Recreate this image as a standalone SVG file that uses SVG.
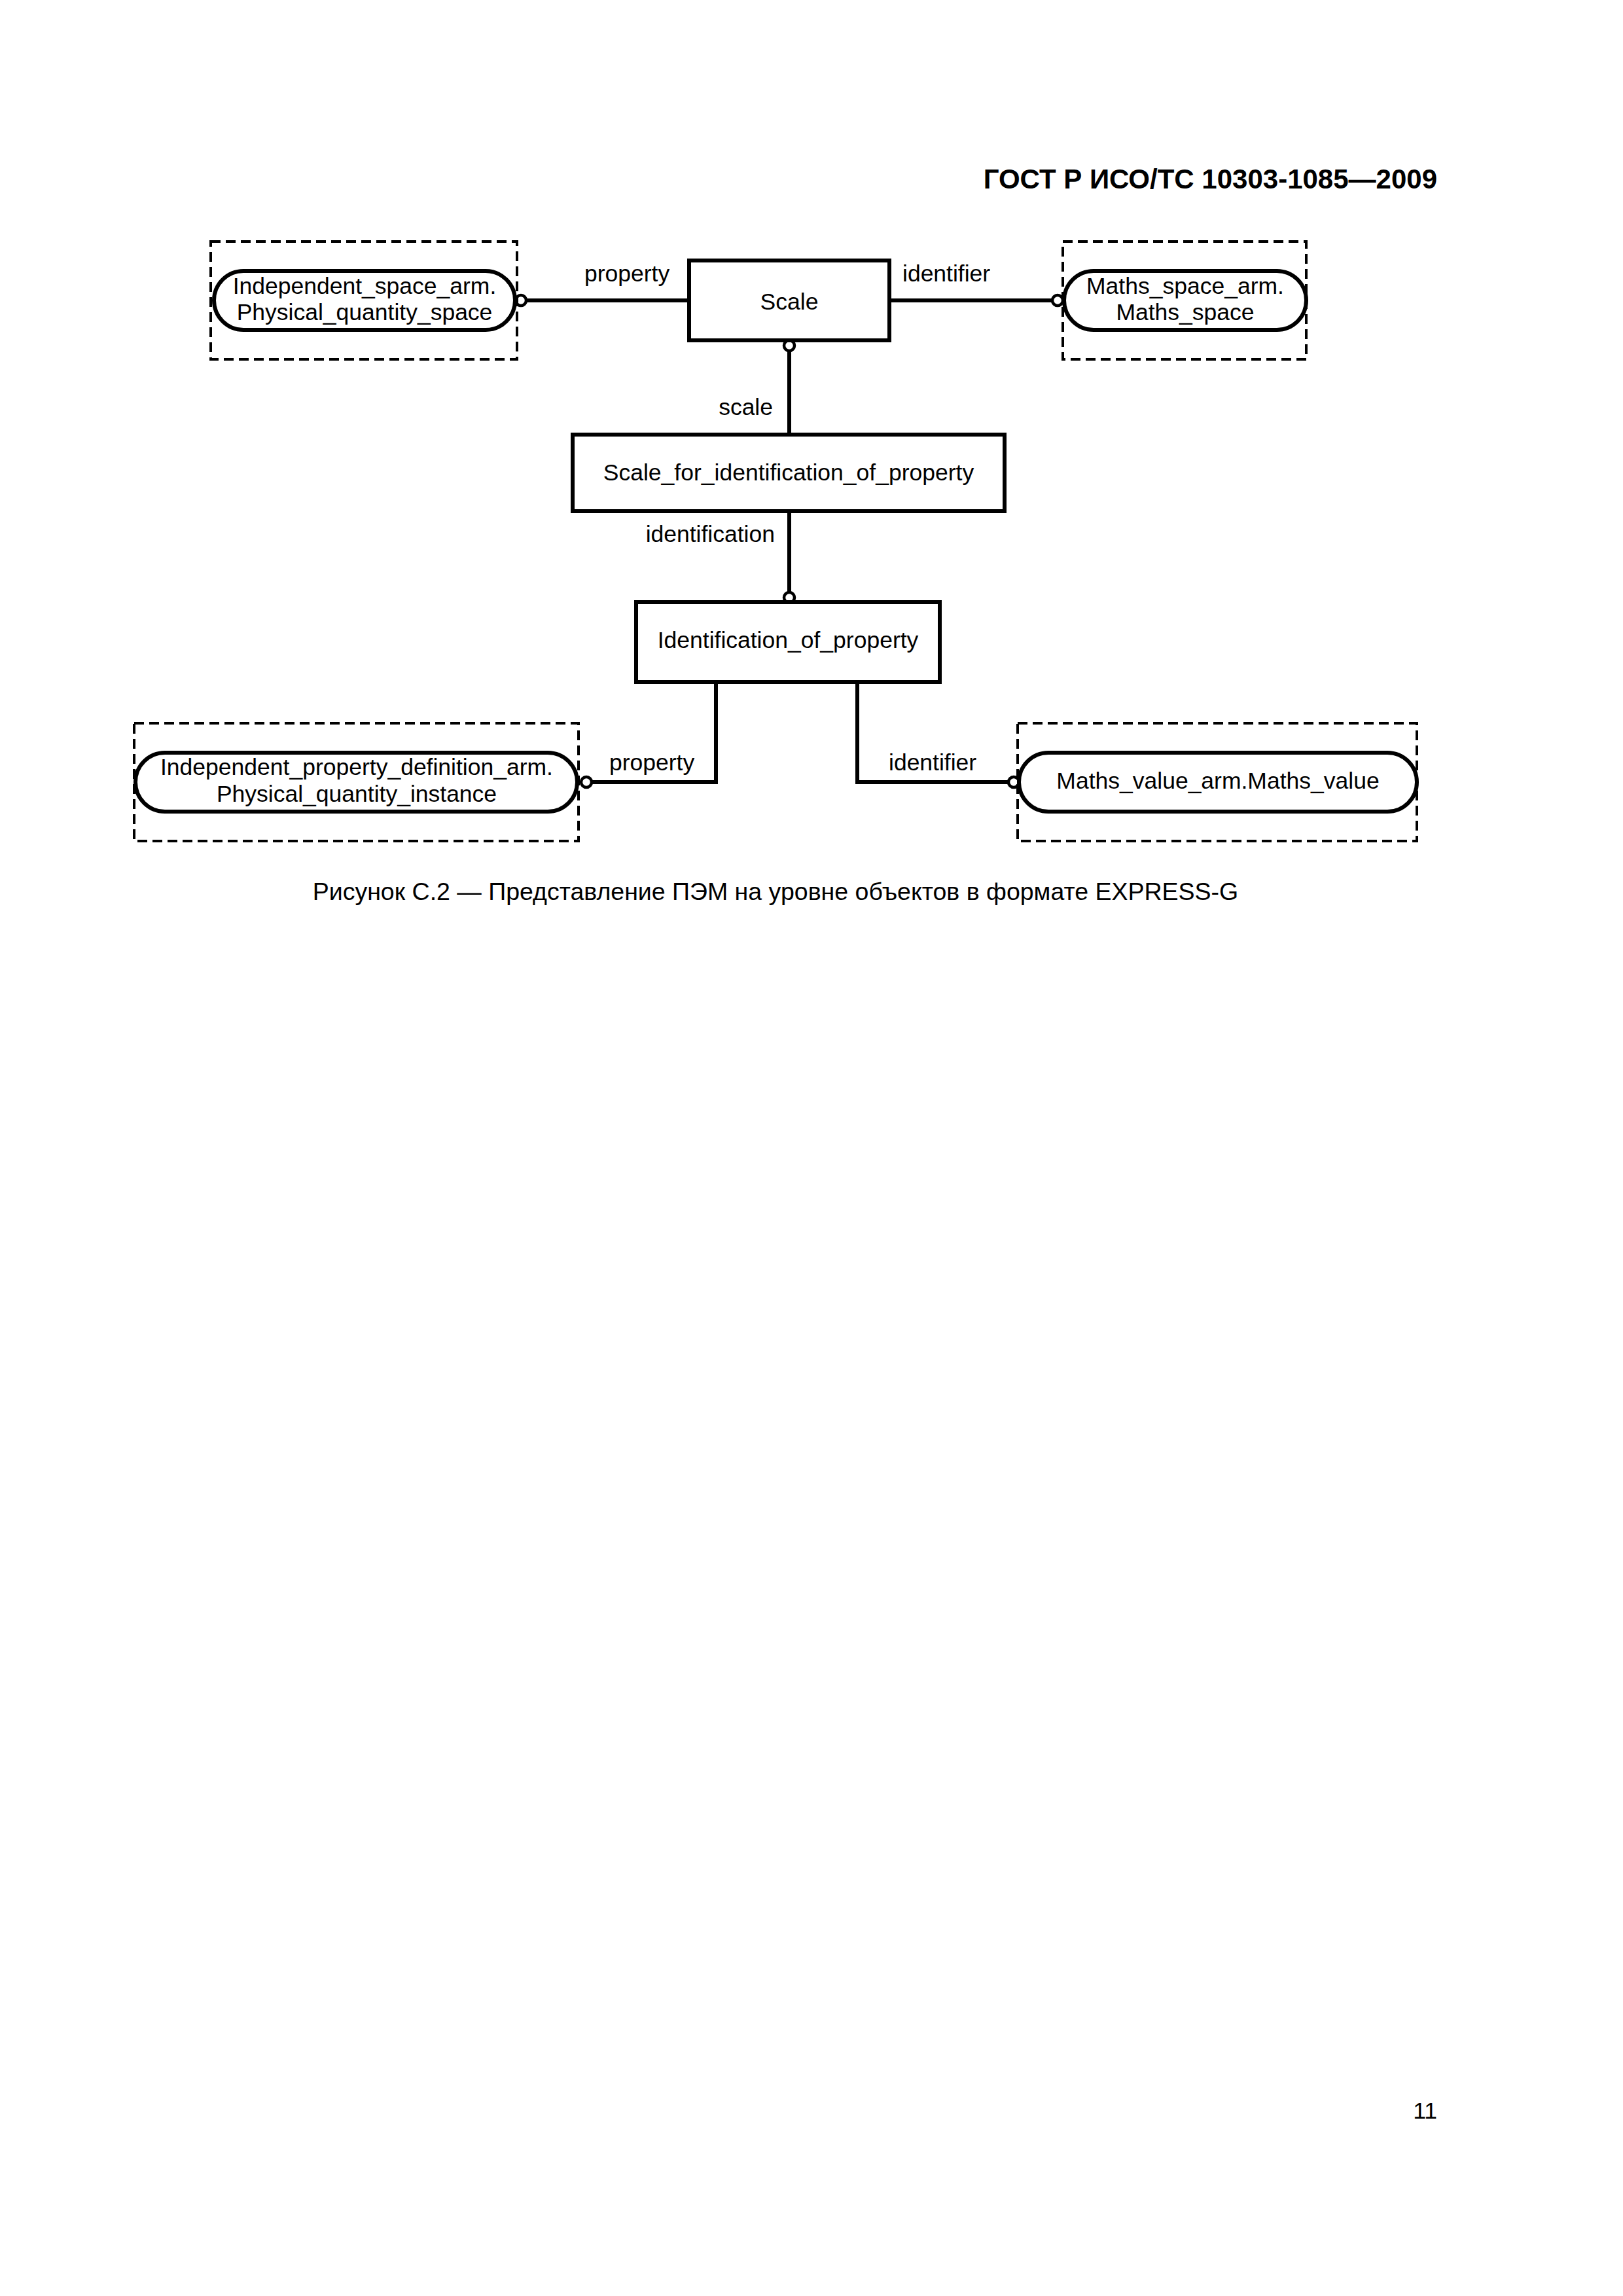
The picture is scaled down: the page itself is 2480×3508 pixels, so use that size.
<svg xmlns="http://www.w3.org/2000/svg" width="2480" height="3508" viewBox="0 0 2480 3508">
<style>
.bg{fill:#fff}
.ent{fill:#fff;stroke:#000;stroke-width:6}
.ref{fill:#fff;stroke:#000;stroke-width:6}
.dash{fill:none;stroke:#000;stroke-width:4;stroke-dasharray:15 8}
.ln{fill:none;stroke:#000;stroke-width:6}
.oc{fill:#fff;stroke:#000;stroke-width:4.5}
text{font-family:"Liberation Sans",Arial,sans-serif;fill:#000}
.t{font-size:35.5px;text-anchor:middle}
.lb{font-size:35.5px}
.hdr{font-size:42px;font-weight:bold;text-anchor:end}
.cap{font-size:37.5px;text-anchor:middle}
</style>
<rect class="bg" x="0" y="0" width="2480" height="3508"/>
<text class="hdr" x="2196" y="288">ГОСТ Р ИСО/ТС 10303-1085—2009</text>

<g id="connectors">
  <path class="ln" d="M804 459 H1053"/>
  <path class="ln" d="M1359 459 H1608"/>
  <path class="ln" d="M1206 535 V664"/>
  <path class="ln" d="M1206 781 V906"/>
  <path class="ln" d="M1094 1042 V1195 H904"/>
  <path class="ln" d="M1310 1042 V1195 H1541"/>
  <circle class="oc" cx="796" cy="459" r="8"/>
  <circle class="oc" cx="1616" cy="459" r="8"/>
  <circle class="oc" cx="1206" cy="528" r="8"/>
  <circle class="oc" cx="1206" cy="913" r="8"/>
  <circle class="oc" cx="896" cy="1195" r="8"/>
  <circle class="oc" cx="1549" cy="1195" r="8"/>
  <text class="lb" x="893" y="430">property</text>
  <text class="lb" x="1379" y="430">identifier</text>
  <text class="lb" x="1181" y="634" text-anchor="end">scale</text>
  <text class="lb" x="1184" y="828" text-anchor="end">identification</text>
  <text class="lb" x="931" y="1177">property</text>
  <text class="lb" x="1358" y="1177">identifier</text>
</g>

<g id="ref_independent_space">
  <rect class="dash" x="322" y="369" width="468" height="180"/>
  <rect class="ref" x="327" y="414" width="460" height="90" rx="45" ry="45"/>
  <text class="t" x="557" y="449">Independent_space_arm.</text>
  <text class="t" x="557" y="489">Physical_quantity_space</text>
</g>

<g id="scale">
  <rect class="ent" x="1053" y="398" width="306" height="122"/>
  <text class="t" x="1206" y="473">Scale</text>
</g>

<g id="ref_maths_space">
  <rect class="dash" x="1624" y="369" width="372" height="180"/>
  <rect class="ref" x="1626" y="414" width="370" height="90" rx="45" ry="45"/>
  <text class="t" x="1811" y="449">Maths_space_arm.</text>
  <text class="t" x="1811" y="489">Maths_space</text>
</g>

<g id="scale_for_identification_of_property">
  <rect class="ent" x="875" y="664" width="660" height="117"/>
  <text class="t" x="1205" y="734">Scale_for_identification_of_property</text>
</g>

<g id="identification_of_property">
  <rect class="ent" x="972" y="920" width="464" height="122"/>
  <text class="t" x="1204" y="990">Identification_of_property</text>
</g>

<g id="ref_independent_property_definition">
  <rect class="dash" x="205" y="1105" width="679" height="180"/>
  <rect class="ref" x="207" y="1150" width="675" height="90" rx="45" ry="45"/>
  <text class="t" x="545" y="1184">Independent_property_definition_arm.</text>
  <text class="t" x="545" y="1225">Physical_quantity_instance</text>
</g>

<g id="ref_maths_value">
  <rect class="dash" x="1555" y="1105" width="610" height="180"/>
  <rect class="ref" x="1557" y="1150" width="608" height="90" rx="45" ry="45"/>
  <text class="t" x="1861" y="1205">Maths_value_arm.Maths_value</text>
</g>

<text class="cap" x="1185" y="1375">Рисунок С.2 — Представление ПЭМ на уровне объектов в формате EXPRESS-G</text>
<text class="lb" x="2196" y="3237" text-anchor="end">11</text>
</svg>
